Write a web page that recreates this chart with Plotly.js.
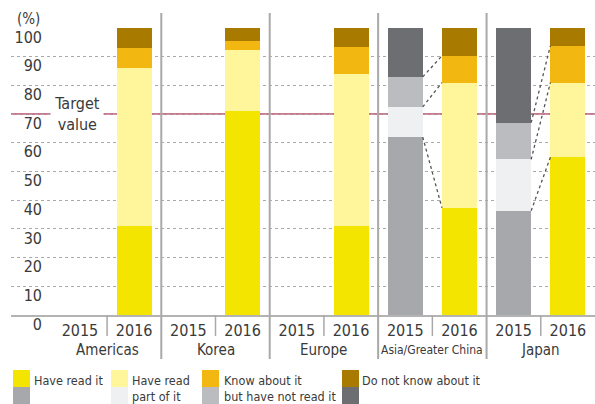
<!DOCTYPE html>
<html>
<head>
<meta charset="utf-8">
<script src="https://cdn.plot.ly/plotly-3.0.1.min.js"></script>
<style>html,body{margin:0;padding:0;background:#fff;}#chart{width:595px;height:404px;}</style>
</head>
<body>
<div id="chart"></div>
<script>
// ---- data ----
const regions = ['Americas', 'Korea', 'Europe', 'Asia/Greater China', 'Japan'];
const years = ['2015', '2016'];
const seriesNames = ['Have read it', 'Have read part of it', 'Know about it but have not read it', 'Do not know about it'];
const legendLabels = ['Have read it', 'Have read<br>part of it', 'Know about it<br>but have not read it', 'Do not know about it'];

const haveRead2015      = [null, null, null, 62.0, 36.3];
const partRead2015      = [null, null, null, 10.5, 17.9];
const knowNotRead2015   = [null, null, null, 10.5, 12.8];
const dontKnow2015      = [null, null, null, 17.0, 33.0];

const haveRead2016      = [31.0, 71.0, 31.0, 37.3, 55.0];
const partRead2016      = [55.0, 21.4, 53.0, 43.7, 26.0];
const knowNotRead2016   = [7.0, 3.2, 9.5, 9.3, 12.8];
const dontKnow2016      = [7.0, 4.4, 6.5, 9.7, 6.2];

const targetValue = 70;
const yTickVals = [0, 10, 20, 30, 40, 50, 60, 70, 80, 90, 100];
const yTickText = ['0', '10', '20', '30', '40', '50', '60', '70', '80', '90', '100'];

// ---- styles ----
const colors2016 = ['#f4e500', '#fff59b', '#f2b811', '#a87a00'];
const colors2015 = ['#a7a8ab', '#eff0f2', '#bbbcbf', '#6d6e72'];
const FONT = "'DejaVu Sans Condensed', 'Liberation Sans Narrow', 'Roboto', sans-serif";
const TXT = '#3a3a3a';
const GRID = '#a9a9a9';
const barW = 0.645;

const data2015 = [haveRead2015, partRead2015, knowNotRead2015, dontKnow2015];
const data2016 = [haveRead2016, partRead2016, knowNotRead2016, dontKnow2016];

// plot area pixel geometry
const L = 11, R = 595, T = 28, B = 315;
const px2x = p => (p - L) / (R - L);
const px2y = p => (B - p) / (B - T);

const pos = (g, yi) => 2 * g + yi;

const traces = [];
for (let k = 0; k < seriesNames.length; k++) {
  const xs = [], ys = [], cs = [];
  regions.forEach((r, g) => {
    years.forEach((yr, yi) => {
      xs.push(pos(g, yi));
      ys.push(yi === 0 ? data2015[k][g] : data2016[k][g]);
      cs.push(yi === 0 ? colors2015[k] : colors2016[k]);
    });
  });
  traces.push({
    type: 'bar', x: xs, y: ys, width: barW, name: seriesNames[k],
    marker: {color: cs, line: {width: 0}}, hoverinfo: 'skip', showlegend: false
  });
}

// dotted connectors between 2015 and 2016 bars
regions.forEach((r, g) => {
  if (data2015[0][g] === null) return;
  let c15 = 0, c16 = 0;
  for (let k = 0; k < 3; k++) {
    c15 += data2015[k][g];
    c16 += data2016[k][g];
    traces.push({
      type: 'scatter', mode: 'lines',
      x: [pos(g, 0) + barW / 2, pos(g, 1) - barW / 2], y: [c15, c16],
      line: {color: '#555', width: 1.3, dash: 'dot'},
      hoverinfo: 'skip', showlegend: false
    });
  }
});

const shapes = [];
const annotations = [];

// target line
shapes.push({type: 'line', xref: 'paper', yref: 'y', x0: 0, x1: 1, y0: targetValue, y1: targetValue,
  line: {color: '#c97b90', width: 2}, layer: 'below'});

// group separators
for (let g = 1; g < regions.length; g++) {
  shapes.push({type: 'line', xref: 'x', yref: 'paper', x0: 2 * g - 0.5, x1: 2 * g - 0.5,
    y0: px2y(359), y1: px2y(13), line: {color: GRID, width: 2}, layer: 'above'});
}
// year separators
for (let g = 0; g < regions.length; g++) {
  shapes.push({type: 'line', xref: 'x', yref: 'paper', x0: 2 * g + 0.5, x1: 2 * g + 0.5,
    y0: px2y(336), y1: 0, line: {color: GRID, width: 1.5}, layer: 'above'});
}

// group labels
regions.forEach((r, g) => {
  annotations.push({xref: 'x', yref: 'paper', x: 2 * g + 0.5, y: px2y(350), text: r,
    showarrow: false, xanchor: 'center', yanchor: 'middle',
    font: {family: FONT, size: r.length > 12 ? 12 : 15, color: TXT}});
});

// (%) label
annotations.push({xref: 'paper', yref: 'paper', x: px2x(15), y: px2y(19), text: '(%)', showarrow: false,
  xanchor: 'left', yanchor: 'middle', font: {family: FONT, size: 15, color: TXT}});

// target value label
annotations.push({xref: 'x', yref: 'y', x: -0.055, y: targetValue, text: 'Target<br>value', showarrow: false,
  xanchor: 'center', yanchor: 'middle', bgcolor: '#ffffff', width: 52, borderpad: 0,
  font: {family: FONT, size: 16, color: TXT}});

// legend
const legSwX = [13, 111, 202, 342];
const legTxX = [32, 130, 222, 360];
for (let k = 0; k < seriesNames.length; k++) {
  shapes.push({type: 'rect', xref: 'paper', yref: 'paper', x0: px2x(legSwX[k]), x1: px2x(legSwX[k] + 17),
    y0: px2y(387), y1: px2y(370), fillcolor: colors2016[k], line: {width: 0}});
  shapes.push({type: 'rect', xref: 'paper', yref: 'paper', x0: px2x(legSwX[k]), x1: px2x(legSwX[k] + 17),
    y0: px2y(404), y1: px2y(387), fillcolor: colors2015[k], line: {width: 0}});
  annotations.push({xref: 'paper', yref: 'paper', x: px2x(legTxX[k]), y: px2y(371), text: legendLabels[k],
    showarrow: false, xanchor: 'left', yanchor: 'top', align: 'left',
    font: {family: FONT, size: 12.5, color: TXT}});
}

const xTickVals = [], xTickText = [];
regions.forEach((r, g) => years.forEach((yr, yi) => { xTickVals.push(pos(g, yi)); xTickText.push(yr); }));

const layout = {
  width: 595, height: 404,
  margin: {l: L, r: 595 - R, t: T, b: 404 - B, pad: 0},
  paper_bgcolor: '#fff', plot_bgcolor: '#fff',
  barmode: 'stack', bargap: 0,
  showlegend: false,
  xaxis: {
    range: [-1.272, 9.5], tickmode: 'array', tickvals: xTickVals, ticktext: xTickText,
    ticks: '', showgrid: false, zeroline: false, showline: true, linecolor: '#b3b3b3', linewidth: 1.5,
    tickfont: {family: FONT, size: 16, color: TXT}, fixedrange: true
  },
  yaxis: {
    range: [0, 100], tickmode: 'array', tickvals: yTickVals, ticktext: yTickText,
    anchor: 'free', position: px2x(42), side: 'left',
    ticks: '', showline: false, zeroline: false,
    showgrid: true, gridcolor: GRID, griddash: 'dot', gridwidth: 1,
    ticklabelshift: 9,
    tickfont: {family: FONT, size: 16, color: TXT}, fixedrange: true
  },
  shapes: shapes,
  annotations: annotations
};

Plotly.newPlot('chart', traces, layout, {displayModeBar: false, staticPlot: true});
</script>
</body>
</html>
